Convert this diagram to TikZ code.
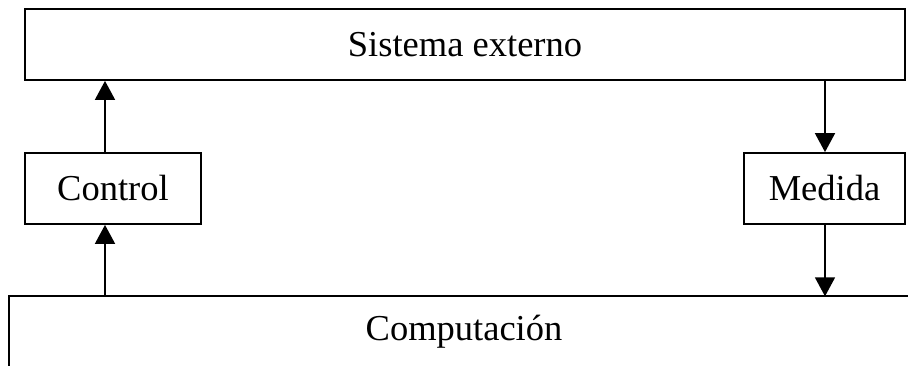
\documentclass[tikz,border=0pt]{standalone}
\usepackage{fontspec}
\setmainfont{Liberation Serif}
\usetikzlibrary{arrows.meta}
\begin{document}
\begin{tikzpicture}[x=1pt,y=1pt,
  lbl/.style={font=\fontsize{36.5}{43}\selectfont},
  box/.style={draw, line width=1.8pt, inner sep=0pt, lbl},
  arr/.style={line width=1.8pt, -{Triangle[length=19pt,width=20pt]}}]
\useasboundingbox (0,0) rectangle (908,365);
\node[box, minimum width=880pt, minimum height=71pt] (sys) at (465,320.5) {Sistema externo};
\node[box, minimum width=176pt, minimum height=71pt] (ctrl) at (113,176.5) {Control};
\node[box, minimum width=161pt, minimum height=71pt] (med) at (824.5,176.5) {Medida};
\node[inner sep=0pt, minimum width=910pt, minimum height=70pt, lbl] (comp) at (464,33.5) {Computación};
\draw[line width=1.8pt] (comp.south west) -- (comp.north west) -- (comp.north east);
\coordinate (cx) at (105,0);
\coordinate (mx) at (825,0);
\draw[arr] (cx |- comp.north) -- (cx |- ctrl.south);
\draw[arr] (cx |- ctrl.north) -- (cx |- sys.south);
\draw[arr] (mx |- sys.south) -- (mx |- med.north);
\draw[arr] (mx |- med.south) -- (mx |- comp.north);
\end{tikzpicture}
\end{document}
